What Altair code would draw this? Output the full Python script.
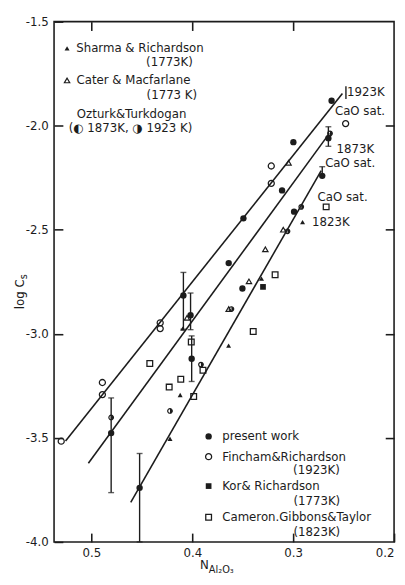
import altair as alt
import pandas as pd

INK = "#1c1c1c"
FONT = "DejaVu Sans"
W, H = 347, 531

# ---------------- data ----------------
# present work (filled circles)
pw_x = [0.2619, 0.2998, 0.3110, 0.3493, 0.4088, 0.4017, 0.2651, 0.2712, 0.3639, 0.2991, 0.3503, 0.4006, 0.4804, 0.4522]
pw_y = [-1.880, -2.079, -2.311, -2.445, -2.816, -2.911, -2.060, -2.241, -2.660, -2.413, -2.782, -3.120, -3.477, -3.740]

# error bars of present work
eb_x  = [0.4088, 0.4017, 0.4006, 0.4804, 0.4522, 0.2651, 0.2712]
eb_lo = [-2.978, -2.980, -3.229, -3.763, -4.000, -2.099, -2.239]
eb_hi = [-2.705, -2.804, -3.010, -3.308, -3.575, -2.005, -2.197]
# plain bar at the end of the 1923K line
bar_x, bar_lo, bar_hi = [0.2477], [-1.872], [-1.811]

# Fincham & Richardson (open circles, 1923K)
fr_x = [0.2480, 0.3217, 0.3217, 0.4318, 0.4318, 0.4891, 0.4891, 0.5299]
fr_y = [-1.990, -2.1935, -2.277, -2.947, -2.975, -3.234, -3.292, -3.516]

# Ozturk & Turkdogan (half filled circles)
ot_x = [0.2635, 0.2920, 0.3056, 0.3612, 0.4221, 0.4804, 0.3914]
ot_y = [-2.037, -2.390, -2.5075, -2.881, -3.3705, -3.402, -3.148]

# Cater & Macfarlane (open triangles, 1773K)
cm_x = [0.3046, 0.3098, 0.3276, 0.3438, 0.3639, 0.4052]
cm_y = [-2.178, -2.4995, -2.594, -2.748, -2.881, -2.923]

# Sharma & Richardson (filled triangles, 1773K)
sr_x = [0.2907, 0.3314, 0.3640, 0.4095, 0.4120, 0.4221]
sr_y = [-2.4637, -2.735, -3.057, -2.975, -3.294, -3.504]

# Kor & Richardson (filled square, 1773K)
kr_x = [0.3299]
kr_y = [-2.7745]

# Cameron, Gibbons & Taylor (open squares, 1823K)
cg_x = [0.2673, 0.3179, 0.3396, 0.4421, 0.4010, 0.3894, 0.4114, 0.4229, 0.3986]
cg_y = [-2.390, -2.716, -2.989, -3.143, -3.0395, -3.1746, -3.2184, -3.256, -3.301]

# regression lines (end points)
ln_name = ["1923K", "1923K", "1873K", "1873K", "1823K", "1823K"]
ln_x = [0.5256, 0.2512, 0.5030, 0.2641, 0.4610, 0.2722]
ln_y = [-3.515, -1.845, -3.622, -2.037, -3.810, -2.2156]

# axis ticks
x_ticks = [0.5, 0.4, 0.3, 0.2]
y_ticks = [-1.5, -2.0, -2.5, -3.0, -3.5, -4.0]
x_inner = [0.5, 0.4, 0.3]
y_inner = [-2.0, -2.5, -3.0, -3.5]
X_MIN, X_MAX = 0.537, 0.2
Y_MIN, Y_MAX = -4.0, -1.5

# annotations (left aligned)
tl_text = ["Sharma & Richardson", "Cater & Macfarlane", "Ozturk&Turkdogan", "(\u25d0 1873K, \u25d1 1923 K)",
           "present  work", "Fincham&Richardson", "Kor& Richardson", "Cameron.Gibbons&Taylor",
           "1923K", "CaO sat.", "1873K", "CaO sat.", "CaO sat.", "1823K"]
tl_x = [0.5150, 0.5147, 0.5144, 0.5224,
        0.3703, 0.3703, 0.3703, 0.3703,
        0.2466, 0.2586, 0.2570, 0.2683, 0.2758, 0.2813]
tl_y = [-1.6285, -1.7825, -1.9426, -2.0132,
        -3.493, -3.5904, -3.7316, -3.8809,
        -1.8404, -1.9317, -2.112, -2.178, -2.3428, -2.4638]
# annotations (right aligned)
tr_text = ["(1773K)", "(1773 K)", "(1923K)", "(1773K)", "(1823K)"]
tr_x = [0.3994, 0.3952, 0.2537, 0.2534, 0.2534]
tr_y = [-1.6963, -1.8531, -3.6563, -3.8023, -3.9515]

# legend symbols
lg_sr = ([0.5241], [-1.6285])
lg_cm = ([0.5241], [-1.7825])
lg_pw = ([0.3838], [-3.493])
lg_fr = ([0.3838], [-3.5904])
lg_kr = ([0.3838], [-3.7316])
lg_cg = ([0.3838], [-3.8809])

# ---------------- chart ----------------
xs = alt.Scale(domain=[X_MIN, X_MAX], nice=False, zero=False)
ys = alt.Scale(domain=[Y_MIN, Y_MAX], nice=False, zero=False)

# bottom / left axes: labels outside, ticks pointing inward (axis line moved inside)
xaxis = alt.Axis(values=x_ticks, labelExpr="format(datum.value, '.1f')", labelFlush=True,
                 ticks=True, tickSize=9, tickWidth=1.6, tickColor=INK, offset=-9, zindex=2,
                 domain=False, grid=False, title=None, labelPadding=6)
yaxis = alt.Axis(values=y_ticks, labelExpr="'-' + format(abs(datum.value), '.1f')",
                 ticks=True, tickSize=9, tickWidth=1.6, tickColor=INK, offset=-9, zindex=2,
                 domain=False, grid=False, title=None, labelPadding=6)
# top / right axes: inward ticks only
xaxis_top = alt.Axis(orient="top", values=x_inner, labels=False, ticks=True, tickSize=9,
                     tickWidth=1.6, tickColor=INK, offset=-9, zindex=2,
                     domain=False, grid=False, title=None)
yaxis_right = alt.Axis(orient="right", values=y_inner, labels=False, ticks=True, tickSize=9,
                       tickWidth=1.6, tickColor=INK, offset=-9, zindex=2,
                       domain=False, grid=False, title=None)


def X(f="x"):
    return alt.X(f"{f}:Q", scale=xs, axis=None)


def Y(f="y"):
    return alt.Y(f"{f}:Q", scale=ys, axis=None)


def pts(xv, yv, shape, filled, size, sw=1.3):
    df = pd.DataFrame({"x": xv, "y": yv})
    return alt.Chart(df).mark_point(shape=shape, filled=filled, size=size, color=INK,
                                    strokeWidth=sw, opacity=1).encode(x=X(), y=Y())


lines = alt.Chart(pd.DataFrame({"g": ln_name, "x": ln_x, "y": ln_y})).mark_line(
    color=INK, strokeWidth=1.6).encode(
    x=alt.X("x:Q", scale=xs, axis=xaxis), y=alt.Y("y:Q", scale=ys, axis=yaxis), detail="g:N")

eb_df = pd.DataFrame({"x": eb_x, "lo": eb_lo, "hi": eb_hi})
ebars = alt.Chart(eb_df).mark_rule(color=INK, strokeWidth=1.4).encode(
    x=X(), y=Y("lo"), y2="hi:Q")
caps_lo = alt.Chart(eb_df).mark_tick(color=INK, orient="horizontal", size=6, thickness=1.4).encode(
    x=X(), y=Y("lo"))
caps_hi = alt.Chart(eb_df).mark_tick(color=INK, orient="horizontal", size=6, thickness=1.4).encode(
    x=X(), y=Y("hi"))
bar = alt.Chart(pd.DataFrame({"x": bar_x, "lo": bar_lo, "hi": bar_hi})).mark_rule(
    color=INK, strokeWidth=1.4).encode(
    x=alt.X("x:Q", scale=xs, axis=xaxis_top), y=alt.Y("lo:Q", scale=ys, axis=yaxis_right), y2="hi:Q")

half = "M0,-1A1,1,0,0,1,0,1Z"

txt_left = alt.Chart(pd.DataFrame({"t": tl_text, "x": tl_x, "y": tl_y})).mark_text(
    align="left", baseline="middle", font=FONT, fontSize=12, color=INK).encode(x=X(), y=Y(), text="t:N")
txt_right = alt.Chart(pd.DataFrame({"t": tr_text, "x": tr_x, "y": tr_y})).mark_text(
    align="right", baseline="middle", font=FONT, fontSize=12, color=INK).encode(x=X(), y=Y(), text="t:N")

# axis titles
xt_main = alt.Chart(pd.DataFrame({"t": ["N"], "x": [0.3836], "y": [-4.113]})).mark_text(
    align="right", baseline="middle", font=FONT, fontSize=12, color=INK).encode(x=X(), y=Y(), text="t:N")
xt_sub = alt.Chart(pd.DataFrame({"t": ["Al\u2082O\u2083"], "x": [0.3836], "y": [-4.113]})).mark_text(
    align="left", baseline="middle", font=FONT, fontSize=10, dy=5, color=INK).encode(x=X(), y=Y(), text="t:N")
yt_main = alt.Chart(pd.DataFrame({"t": ["log C"], "x": [0.571], "y": [-2.738]})).mark_text(
    align="right", baseline="middle", font=FONT, fontSize=12, angle=270, color=INK).encode(x=X(), y=Y(), text="t:N")
yt_sub = alt.Chart(pd.DataFrame({"t": ["s"], "x": [0.571], "y": [-2.738]})).mark_text(
    align="left", baseline="middle", font=FONT, fontSize=10, angle=270, dy=4, color=INK).encode(x=X(), y=Y(), text="t:N")

layers = [
    lines, ebars, caps_lo, caps_hi, bar,
    pts(pw_x + lg_pw[0], pw_y + lg_pw[1], "circle", True, 42),
    pts(fr_x + lg_fr[0], fr_y + lg_fr[1], "circle", False, 38),
    pts(ot_x, ot_y, "circle", False, 22, 1.2),
    pts(ot_x, ot_y, half, True, 22),
    pts(cm_x + lg_cm[0], cm_y + lg_cm[1], "triangle-up", False, 30, 1.2),
    pts(sr_x + lg_sr[0], sr_y + lg_sr[1], "triangle-up", True, 26),
    pts(kr_x + lg_kr[0], kr_y + lg_kr[1], "square", True, 34),
    pts(cg_x + lg_cg[0], cg_y + lg_cg[1], "square", False, 34, 1.3),
    txt_left, txt_right, xt_main, xt_sub, yt_main, yt_sub,
]

chart = alt.layer(*layers).resolve_axis(
    x="independent", y="independent"
).properties(
    width=W, height=H,
    padding={"left": 47, "top": 8, "right": 3, "bottom": 37},
    autosize=alt.AutoSizeParams(type="none"),
    background="white",
).configure_view(
    stroke=INK, strokeWidth=1.6
).configure_axis(
    labelFont=FONT, labelFontSize=12, labelColor=INK
)

chart.save("out.html", embed_options={"renderer": "svg", "actions": False})
